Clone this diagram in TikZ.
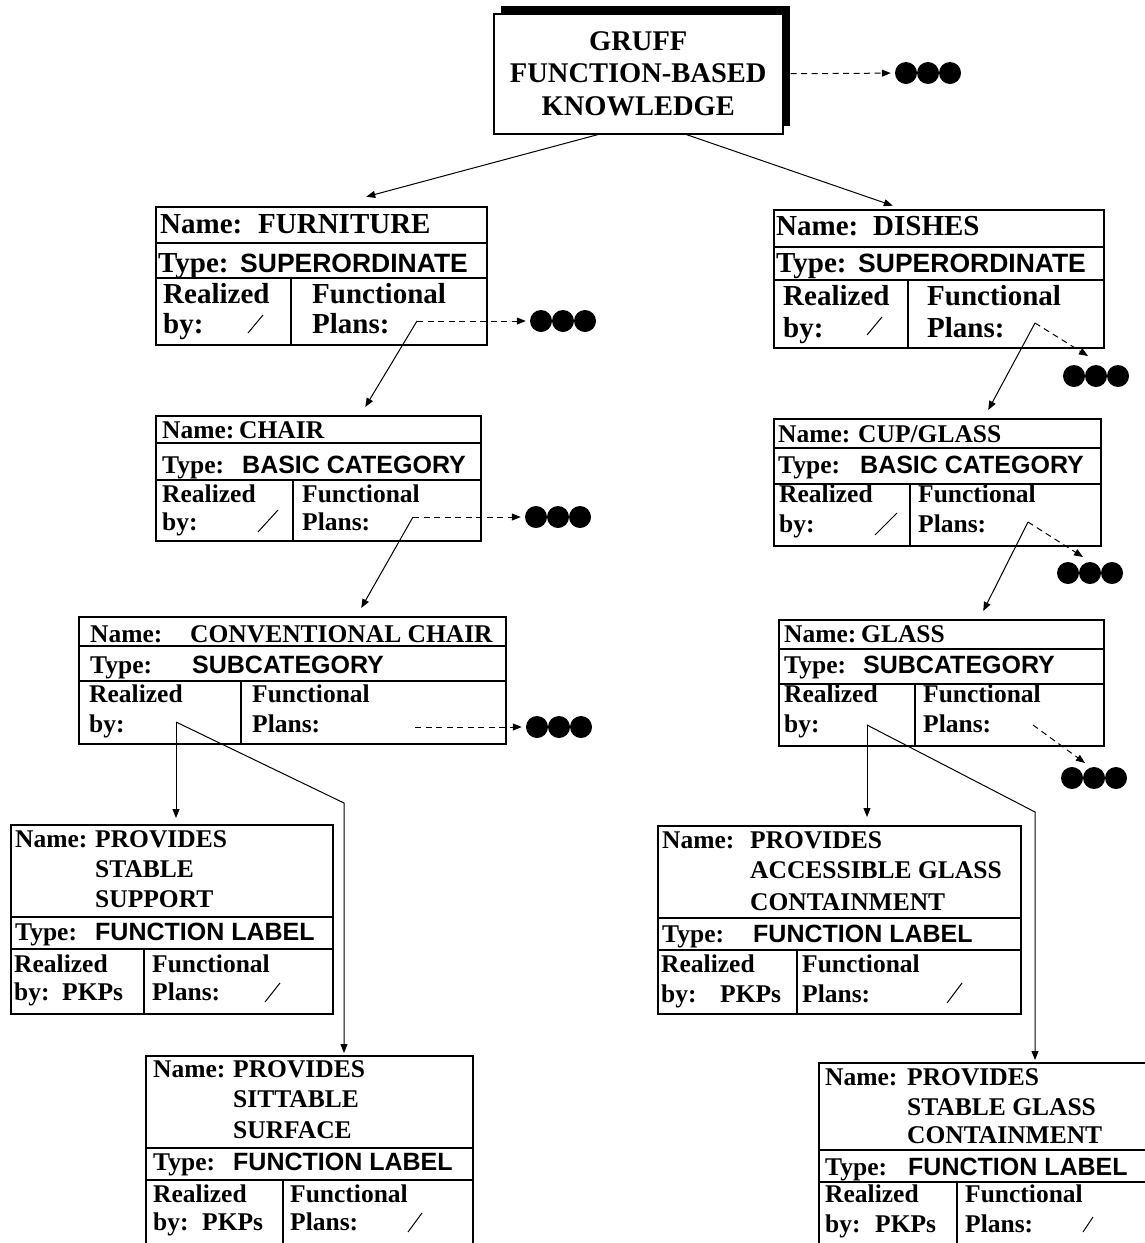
\documentclass[tikz,border=0pt]{standalone}
\usepackage{fontspec}
\setmainfont{Liberation Serif}
\newfontfamily\arialfont{Liberation Sans}
\usetikzlibrary{arrows.meta,shadows}
\tikzset{
  blob/.style={circle,fill,inner sep=0pt,minimum size=22pt},
  moredots/.pic={
    \node[blob] (-a) at (0,0) {};
    \node[blob] (-b) at (22,0) {};
    \node[blob] (-c) at (44,0) {};
  }
}

\begin{document}
\begin{tikzpicture}[x=1pt,y=-1pt,
  frame/.style={draw,line width=1.5pt,inner sep=0pt,anchor=north west},
  rule/.style={line width=1.5pt},
  big/.style={anchor=base west,inner sep=0pt,font=\fontsize{29}{33}\selectfont\bfseries},
  bigval/.style={anchor=base west,inner sep=0pt,font=\arialfont\fontsize{26.5}{30}\selectfont\bfseries},
  lbl/.style={anchor=base west,inner sep=0pt,font=\fontsize{25.5}{30}\selectfont\bfseries},
  val/.style={anchor=base west,inner sep=0pt,font=\arialfont\fontsize{25}{30}\selectfont\bfseries},
  link/.style={line width=1pt,-{Triangle[length=9pt,width=7pt]}},
  more/.style={line width=1pt,dash pattern=on 6pt off 4.5pt,-{Triangle[length=9pt,width=7pt]}},
  slash/.style={line width=1pt}]

\useasboundingbox (0,0) rectangle (1145,1243);
\clip (0,0) rectangle (1145,1243);

\node[frame,fill=white,minimum width=289pt,minimum height=120pt,align=center,
      drop shadow={shadow xshift=7pt,shadow yshift=8pt,fill=black,opacity=1},
      font=\fontsize{28.5}{32.5}\selectfont\bfseries] (gruff) at (493,13)
      {GRUFF\\FUNCTION-BASED\\KNOWLEDGE};
\pic (rdots) at (906,73) {moredots};
\draw[more,shorten >=4pt] ([xshift=7pt]gruff.east) -- (rdots-a);

\node[frame,minimum width=331pt,minimum height=138pt] (furniture) at (155,206) {};
\draw[rule] (155,243) -- (486,243);
\draw[rule] (155,278) -- (486,278);
\draw[rule] (291,278) -- (291,344);
\node[big] (furniture-name) at (160,233) {Name:};
\node[big] (furniture-namev) at (258,233) {FURNITURE};
\node[big] (furniture-type) at (158,272) {Type:};
\node[bigval] (furniture-typev) at (240,272) {SUPERORDINATE};
\node[big] (furniture-real) at (163,303) {Realized};
\node[big] (furniture-by) at (163,333) {by:};
\node[big] (furniture-fun) at (312,303) {Functional};
\node[big] (furniture-plans) at (312,333) {Plans:};
\draw[slash] (248,333) -- (263,315);
\coordinate (furniture-out) at (417,321);
\pic (fdots) at (541,321) {moredots};

\node[frame,minimum width=330pt,minimum height=138pt] (dishes) at (773,209) {};
\draw[rule] (773,247) -- (1103,247);
\draw[rule] (773,280) -- (1103,280);
\draw[rule] (908,280) -- (908,347);
\node[big] (dishes-name) at (776,235) {Name:};
\node[big] (dishes-namev) at (873,235) {DISHES};
\node[big] (dishes-type) at (776,272) {Type:};
\node[bigval] (dishes-typev) at (858,272) {SUPERORDINATE};
\node[big] (dishes-real) at (783,305) {Realized};
\node[big] (dishes-by) at (783,337) {by:};
\node[big] (dishes-fun) at (927,305) {Functional};
\node[big] (dishes-plans) at (927,337) {Plans:};
\draw[slash] (867,335) -- (882,317);
\coordinate (dishes-out) at (1035,323);
\coordinate (dishes-tip) at (1088,356);
\pic (ddots) at (1074,376) {moredots};

\node[frame,minimum width=325pt,minimum height=125pt] (chair) at (155,415) {};
\draw[rule] (155,443) -- (480,443);
\draw[rule] (155,480) -- (480,480);
\draw[rule] (293,480) -- (293,540);
\node[lbl] (chair-name) at (162,438) {Name:};
\node[lbl] (chair-namev) at (239,438) {CHAIR};
\node[lbl] (chair-type) at (162,473) {Type:};
\node[val] (chair-typev) at (242,473) {BASIC CATEGORY};
\node[lbl] (chair-real) at (162,502) {Realized};
\node[lbl] (chair-by) at (162,530) {by:};
\node[lbl] (chair-fun) at (302,502) {Functional};
\node[lbl] (chair-plans) at (302,530) {Plans:};
\draw[slash] (258,532) -- (278,510);
\coordinate (chair-out) at (413,517);
\pic (cdots) at (536,517) {moredots};

\node[frame,minimum width=327pt,minimum height=127pt] (cupglass) at (773,418) {};
\draw[rule] (773,448) -- (1100,448);
\draw[rule] (773,484) -- (1100,484);
\draw[rule] (910,484) -- (910,545);
\node[lbl] (cupglass-name) at (778,442) {Name:};
\node[lbl] (cupglass-namev) at (858,442) {CUP/GLASS};
\node[lbl] (cupglass-type) at (778,473) {Type:};
\node[val] (cupglass-typev) at (860,473) {BASIC CATEGORY};
\node[lbl] (cupglass-real) at (779,502) {Realized};
\node[lbl] (cupglass-by) at (779,532) {by:};
\node[lbl] (cupglass-fun) at (918,502) {Functional};
\node[lbl] (cupglass-plans) at (918,532) {Plans:};
\draw[slash] (875,535) -- (897,513);
\coordinate (cupglass-out) at (1028,522);
\coordinate (cupglass-tip) at (1083,557);
\pic (cgdots) at (1068,573) {moredots};

\node[frame,minimum width=427pt,minimum height=127pt] (convchair) at (78,616) {};
\draw[rule] (78,646) -- (505,646);
\draw[rule] (78,681) -- (505,681);
\draw[rule] (241,681) -- (241,743);
\node[lbl] (convchair-name) at (90,642) {Name:};
\node[lbl] (convchair-namev) at (190,642) {CONVENTIONAL CHAIR};
\node[lbl] (convchair-type) at (90,673) {Type:};
\node[val] (convchair-typev) at (192,673) {SUBCATEGORY};
\node[lbl] (convchair-real) at (89,702) {Realized};
\node[lbl] (convchair-by) at (89,732) {by:};
\node[lbl] (convchair-fun) at (252,702) {Functional};
\node[lbl] (convchair-plans) at (252,732) {Plans:};
\coordinate (convchair-out) at (415,727);
\coordinate (convchair-from) at (176,722);
\coordinate (convchair-bend) at (344,803);
\pic (ccdots) at (537,727) {moredots};

\node[frame,minimum width=325pt,minimum height=126pt] (glass) at (778,619) {};
\draw[rule] (778,649) -- (1103,649);
\draw[rule] (778,684) -- (1103,684);
\draw[rule] (915,684) -- (915,745);
\node[lbl] (glass-name) at (784,642) {Name:};
\node[lbl] (glass-namev) at (861,642) {GLASS};
\node[lbl] (glass-type) at (784,673) {Type:};
\node[val] (glass-typev) at (863,673) {SUBCATEGORY};
\node[lbl] (glass-real) at (784,702) {Realized};
\node[lbl] (glass-by) at (784,732) {by:};
\node[lbl] (glass-fun) at (923,702) {Functional};
\node[lbl] (glass-plans) at (923,732) {Plans:};
\coordinate (glass-out) at (1033,725);
\coordinate (glass-tip) at (1085,763);
\coordinate (glass-from) at (867,725);
\coordinate (glass-bend) at (1035,812);
\pic (gdots) at (1072,778) {moredots};

\node[frame,minimum width=322pt,minimum height=189pt] (support) at (10,824) {};
\draw[rule] (10,917) -- (332,917);
\draw[rule] (10,949) -- (332,949);
\draw[rule] (144,949) -- (144,1013);
\node[lbl] (support-name) at (15,847) {Name:};
\node[lbl] (support-name1) at (95,847) {PROVIDES};
\node[lbl] (support-name2) at (95,877) {STABLE};
\node[lbl] (support-name3) at (95,907) {SUPPORT};
\node[lbl] (support-type) at (15,940) {Type:};
\node[val] (support-typev) at (95,940) {FUNCTION LABEL};
\node[lbl] (support-real) at (14,972) {Realized};
\node[lbl] (support-by) at (14,1000) {by:};
\node[lbl] (support-pkp) at (62,1000) {PKPs};
\node[lbl] (support-fun) at (152,972) {Functional};
\node[lbl] (support-plans) at (152,1000) {Plans:};
\draw[slash] (265,1002) -- (280,983);

\node[frame,minimum width=327pt,minimum height=220pt] (sittable) at (145,1055) {};
\draw[rule] (145,1148) -- (472,1148);
\draw[rule] (145,1180) -- (472,1180);
\draw[rule] (283,1180) -- (283,1275);
\node[lbl] (sittable-name) at (153,1077) {Name:};
\node[lbl] (sittable-name1) at (233,1077) {PROVIDES};
\node[lbl] (sittable-name2) at (233,1107) {SITTABLE};
\node[lbl] (sittable-name3) at (233,1138) {SURFACE};
\node[lbl] (sittable-type) at (153,1170) {Type:};
\node[val] (sittable-typev) at (233,1170) {FUNCTION LABEL};
\node[lbl] (sittable-real) at (153,1202) {Realized};
\node[lbl] (sittable-by) at (153,1230) {by:};
\node[lbl] (sittable-pkp) at (202,1230) {PKPs};
\node[lbl] (sittable-fun) at (290,1202) {Functional};
\node[lbl] (sittable-plans) at (290,1230) {Plans:};
\draw[slash] (408,1232) -- (422,1213);

\node[frame,minimum width=363pt,minimum height=188pt] (accessible) at (657,825) {};
\draw[rule] (657,918) -- (1020,918);
\draw[rule] (657,950) -- (1020,950);
\draw[rule] (797,950) -- (797,1013);
\node[lbl] (accessible-name) at (662,848) {Name:};
\node[lbl] (accessible-name1) at (750,848) {PROVIDES};
\node[lbl] (accessible-name2) at (750,878) {ACCESSIBLE GLASS};
\node[lbl] (accessible-name3) at (750,910) {CONTAINMENT};
\node[lbl] (accessible-type) at (662,942) {Type:};
\node[val] (accessible-typev) at (753,942) {FUNCTION LABEL};
\node[lbl] (accessible-real) at (661,972) {Realized};
\node[lbl] (accessible-by) at (661,1002) {by:};
\node[lbl] (accessible-pkp) at (720,1002) {PKPs};
\node[lbl] (accessible-fun) at (802,972) {Functional};
\node[lbl] (accessible-plans) at (802,1002) {Plans:};
\draw[slash] (947,1003) -- (962,983);

\node[frame,minimum width=340pt,minimum height=220pt] (stableglass) at (818,1062) {};
\draw[rule] (818,1150) -- (1158,1150);
\draw[rule] (818,1182) -- (1158,1182);
\draw[rule] (957,1182) -- (957,1282);
\node[lbl] (stableglass-name) at (825,1085) {Name:};
\node[lbl] (stableglass-name1) at (907,1085) {PROVIDES};
\node[lbl] (stableglass-name2) at (907,1115) {STABLE GLASS};
\node[lbl] (stableglass-name3) at (907,1143) {CONTAINMENT};
\node[lbl] (stableglass-type) at (825,1175) {Type:};
\node[val] (stableglass-typev) at (908,1175) {FUNCTION LABEL};
\node[lbl] (stableglass-real) at (825,1202) {Realized};
\node[lbl] (stableglass-by) at (825,1232) {by:};
\node[lbl] (stableglass-pkp) at (875,1232) {PKPs};
\node[lbl] (stableglass-fun) at (965,1202) {Functional};
\node[lbl] (stableglass-plans) at (965,1232) {Plans:};
\draw[slash] (1083,1232) -- (1093,1217);

\draw[link,shorten >=1pt] ([xshift=-40pt]gruff.south) -- ([xshift=44pt,yshift=9pt]furniture.north);
\draw[link,shorten >=1pt] ([xshift=48pt]gruff.south) -- ([xshift=-45pt,yshift=3pt]dishes.north);

\draw[more,shorten >=4pt] (furniture-out) -- (fdots-a);
\draw[link] (furniture-out) -- ([xshift=47pt,yshift=8pt]chair.north);
\draw[more] (dishes-out) -- (dishes-tip);
\draw[link] (dishes-out) -- ([xshift=51pt,yshift=8pt]cupglass.north);

\draw[more,shorten >=4pt] (chair-out) -- (cdots-a);
\draw[link] (chair-out) -- ([xshift=69pt,yshift=8pt]convchair.north);
\draw[more] (cupglass-out) -- (cupglass-tip);
\draw[link] (cupglass-out) -- ([xshift=42pt,yshift=8pt]glass.north);

\draw[more,shorten >=4pt] (convchair-out) -- (ccdots-a);
\draw[link,shorten >=6pt] (convchair-from) -- (convchair-from |- support.north);
\draw[link,shorten >=2pt] (convchair-from) -- (convchair-bend) -- (convchair-bend |- sittable.north);
\draw[more] (glass-out) -- (glass-tip);
\draw[link,shorten >=8pt] (glass-from) -- (glass-from |- accessible.north);
\draw[link,shorten >=2pt] (glass-from) -- (glass-bend) -- (glass-bend |- stableglass.north);

\end{tikzpicture}
\end{document}
